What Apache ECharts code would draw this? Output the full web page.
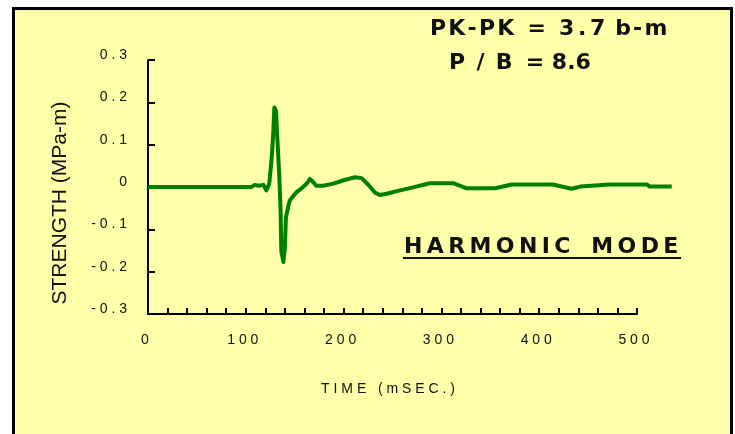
<!DOCTYPE html>
<html>
<head>
<meta charset="utf-8">
<script src="https://cdn.jsdelivr.net/npm/echarts@6/dist/echarts.min.js"></script>
<style>
	html, body { margin: 0; padding: 0; background: #fff; }
	#main { width: 735px; height: 434px; }
</style>
</head>
<body>
<div id="main"></div>
<script>
// 波形数据 (时间 ms / 强度 MPa-m)
var timeMs = [0, 100, 106, 109, 113, 118, 121, 124, 126.5, 128, 129.2, 130.9, 132.6, 134.3,
	135.6, 136.3, 138.4, 140, 141, 143.5, 145, 148.6, 152, 155.4, 160, 163, 165.5, 168,
	172, 174, 179, 189.5, 200, 211.7, 218.5, 225, 232, 237, 244, 257.7, 271, 285, 288,
	312, 326, 355, 372, 414, 433, 442, 472, 510, 513, 535.5];
var strength = [0, 0, 0, 0.005, 0.003, 0.005, -0.008, 0.008, 0.069, 0.125, 0.188, 0.18, 0.10, 0.022,
	-0.057, -0.151, -0.177, -0.143, -0.072, -0.045, -0.032, -0.021, -0.012, -0.006, 0.003, 0.010, 0.019, 0.014,
	0.003, 0, 0.003, 0.008, 0.016, 0.023, 0.021, 0.006, -0.013, -0.019, -0.016, -0.008, -0.001, 0.007, 0.009,
	0.009, -0.003, -0.003, 0.006, 0.006, -0.004, 0.001, 0.006, 0.006, 0.001, 0.001];

// 坐标轴刻度标签
var xLabels = ['0', '100', '200', '300', '400', '500'];
var yLabels = ['-0.3', '-0.2', '-0.1', '0', '0.1', '0.2', '0.3'];

var wave = [];
for (var i = 0; i < timeMs.length; i++) {
	wave.push([timeMs[i], strength[i]]);
}

var font = "'Liberation Sans', Arial, sans-serif";
var boldFont = "bold 22px 'DejaVu Sans', sans-serif";

// 字符之间加空格
function spaced(s, sep) {
	return s.split('').join(sep);
}

var thin = '\u2009';
var six = '\u2006';
var four = '\u2005';
var hair = '\u200a';

var option = {
	backgroundColor: '#fff',
	animation: false,
	grid: [{
		left: 148,
		right: 98,
		top: 60,
		bottom: 120
	}, {
		// 波形画在比坐标轴稍宽的网格里 (曲线超出 500 ms)
		left: 148,
		right: 49.1,
		top: 60,
		bottom: 120
	}],
	xAxis: [{
		type: 'value',
		min: 0,
		max: 500,
		interval: 100,
		name: spaced('TIME', ' ') + '   ' + spaced('(mSEC.)', ' '),
		nameLocation: 'middle',
		nameGap: 68,
		nameTextStyle: {
			color: '#111',
			fontFamily: font,
			fontSize: 14,
			padding: [0, 9, 0, 0]
		},
		axisLine: {
			onZero: false,
			lineStyle: { color: '#000', width: 2 }
		},
		axisTick: {
			inside: true,
			length: 6,
			lineStyle: { color: '#000', width: 2 }
		},
		minorTick: {
			show: true,
			splitNumber: 5,
			length: 6,
			lineStyle: { color: '#000', width: 2 }
		},
		axisLabel: {
			margin: 19,
			color: '#111',
			fontFamily: font,
			fontSize: 14,
			padding: [0, 6, 0, 0],
			formatter: function(v) {
				return spaced(xLabels[Math.round(v / 100)], ' ');
			}
		},
		splitLine: { show: false }
	}, {
		type: 'value',
		gridIndex: 1,
		min: 0,
		max: 550,
		show: false
	}],
	yAxis: [{
		type: 'value',
		min: -0.3,
		max: 0.3,
		interval: 0.1,
		axisLine: {
			onZero: false,
			lineStyle: { color: '#000', width: 2 }
		},
		axisTick: {
			inside: true,
			length: 7,
			lineStyle: { color: '#000', width: 2 }
		},
		axisLabel: {
			margin: 21,
			color: '#111',
			fontFamily: font,
			fontSize: 14,
			verticalAlign: 'bottom',
			lineHeight: 10,
			formatter: function(v) {
				return spaced(yLabels[Math.round((v + 0.3) * 10)], ' ');
			}
		},
		splitLine: { show: false }
	}, {
		type: 'value',
		gridIndex: 1,
		min: -0.3,
		max: 0.3,
		show: false
	}],
	series: [{
		type: 'line',
		xAxisIndex: 1,
		yAxisIndex: 1,
		data: wave,
		clip: false,
		showSymbol: false,
		symbol: 'none',
		lineStyle: { color: '#008000', width: 4, join: 'round' }
	}],
	graphic: [{
		type: 'rect',
		z: -10,
		silent: true,
		shape: { x: 13.5, y: 8.5, width: 718, height: 440 },
		style: { fill: '#ffffaa', stroke: '#000', lineWidth: 3 }
	}, {
		type: 'text',
		x: 60,
		y: 203,
		rotation: Math.PI / 2,
		style: {
			text: 'STRENGTH (MPa-m)',
			font: '21px ' + font,
			fill: '#111',
			textAlign: 'center',
			textVerticalAlign: 'middle'
		}
	}, {
		type: 'text',
		left: 430,
		top: 18,
		style: {
			text: spaced('PK-PK', hair) + ' ' + four + '=' + ' ' + four + spaced('3.7', six) + ' ' + hair + spaced('b-m', hair),
			font: boldFont,
			fill: '#111'
		}
	}, {
		type: 'text',
		left: 449,
		top: 52,
		style: {
			text: 'P' + ' ' + six + '/' + ' ' + six + 'B' + ' ' + four + '=' + ' ' + '8.6',
			font: boldFont,
			fill: '#111'
		}
	}, {
		type: 'text',
		left: 404,
		top: 236,
		style: {
			text: spaced('HARMONIC', thin) + thin + ' ' + thin + thin + spaced('MODE', thin),
			font: boldFont,
			fill: '#111'
		}
	}, {
		type: 'line',
		silent: true,
		shape: { x1: 403, y1: 258, x2: 681, y2: 258 },
		style: { stroke: '#111', lineWidth: 2 }
	}]
};

var chart = echarts.init(document.getElementById('main'));
chart.setOption(option);
</script>
</body>
</html>
